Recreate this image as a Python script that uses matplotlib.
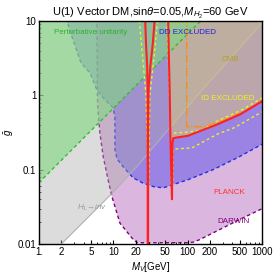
import matplotlib
matplotlib.use("Agg")
import matplotlib.pyplot as plt

plt.rcParams['font.family'] = ['Liberation Sans', 'DejaVu Sans']
plt.rcParams['mathtext.fontset'] = 'custom'
plt.rcParams['mathtext.rm'] = 'Liberation Sans'
plt.rcParams['mathtext.it'] = 'Liberation Sans:italic'

# boundaries, (M_V [GeV], g)
unit_m = [0.5, 300]
unit_g = [0.0335, 20.1]

inv_m = [0.5, 2, 10, 21.5, 156, 1000, 2000]
inv_g = [0.0024, 0.01, 0.05, 0.115, 1.18, 9.4, 20]

darwin_m = [6.0, 6.0, 6.1, 6.2, 6.6, 7.3, 8.5, 9.6, 12.3, 18.5, 21, 30, 100, 120, 146, 272, 507, 943, 2000]
darwin_g = [100, 10, 1.0, 0.64, 0.31, 0.15, 0.073, 0.043, 0.019, 0.0115, 0.0104, 0.0104, 0.0104, 0.0106, 0.0115, 0.0157, 0.0215, 0.029, 0.04]

dd_m = [2.2, 2.38, 2.78, 3.67, 4.85, 6.0, 7.5, 9.9, 10.5, 10.5, 11.2, 13.5, 18.4, 25, 35, 47, 100, 220, 500, 1000, 2000]
dd_g = [100, 10, 6.1, 2.73, 2.0, 1.18, 0.9, 0.68, 0.52, 0.19, 0.14, 0.11, 0.078, 0.066, 0.059, 0.057, 0.073, 0.1, 0.15, 0.22, 0.3]

# relic density (PLANCK) branches
pl1a_m = [26.7, 27.5, 28.5, 29.0, 29.0]
pl1a_g = [12, 5, 2.5, 1.3, 0.005]
pl1b_m = [36.4, 34, 31.5, 29.8, 29.4, 29.3]
pl1b_g = [12, 5, 2.5, 1.3, 0.3, 0.005]
pl2_m = [54.5, 56, 57.5, 58.5, 60, 61.5, 62.0, 62.3, 64, 70, 100, 256, 500, 1000, 2000]
pl2_g = [12, 3, 1.0, 0.3, 0.1, 0.04, 0.1, 0.22, 0.265, 0.27, 0.285, 0.41, 0.55, 0.83, 1.1]

# indirect detection (ID) boundaries
id1_m = [22, 25, 27.5, 29.3, 29.6]
id1_g = [12, 3, 1, 0.1, 0.03]
id2_m = [40, 35, 31, 29.8]
id2_g = [12, 3, 1, 0.05]
id3_m = [52, 55, 57, 58.5, 60]
id3_g = [12, 3, 1, 0.3, 0.06]
id4_m = [63, 63.5, 66, 114, 250, 432, 1000]
id4_g = [0.06, 0.18, 0.19, 0.196, 0.3, 0.37, 0.6]
id5_m = [65, 100, 156, 250, 539, 1000]
id5_g = [0.31, 0.32, 0.34, 0.45, 0.64, 0.92]

# CMB boundary
cmb_m = [97, 97, 105, 170, 300, 600, 1000]
cmb_g = [12, 0.38, 0.375, 0.38, 0.46, 0.62, 0.85]

xticks = [1, 2, 5, 10, 20, 50, 100, 200, 500, 1000]
xlabels = ['1.', '2', '5', '10', '20', '50', '100', '200', '500', '1000']
yticks = [0.01, 0.1, 1, 10]
ylabels = ['0.01', '0.1', '1', '10']

fig = plt.figure(figsize=(2.74, 2.76), dpi=100)
ax = fig.add_axes([39 / 274, 1 - 244 / 276, 223 / 274, 223 / 276])
ax.set_xscale('log')
ax.set_yscale('log')

# DARWIN
ax.fill(darwin_m + [2000], darwin_g + [100], color='#b870c0', alpha=0.5, lw=0, zorder=1)
ax.plot(darwin_m, darwin_g, color='#800080', lw=1.0, ls=(0, (2.5, 2)), zorder=1.1)

# DD excluded
ax.fill(dd_m + [2000], dd_g + [100], color='#5c50ea', alpha=0.5, lw=0, zorder=2)
ax.plot(dd_m, dd_g, color='#2030e0', lw=1.0, ls=(0, (2.5, 2)), zorder=2.1)

# H1 -> inv (grey)
ax.fill(inv_m + [2000, 0.5], inv_g + [100, 100], color='#a8a8a8', alpha=0.4, lw=0, zorder=3)
ax.plot(inv_m, inv_g, color='#b0b0b0', lw=0.8, zorder=3.1)

# ID excluded fill (above relic line, heavy side)
ax.fill(pl2_m + [2000, 54.5], pl2_g + [100, 100], color='#dccc74', alpha=0.5, lw=0, zorder=4)

# perturbative unitarity
ax.fill(unit_m + [0.5], unit_g + [20.1], color='#80d880', alpha=0.6, lw=0, zorder=5)
ax.plot(unit_m, unit_g, color='#30c030', lw=1.0, ls=(0, (2.5, 2)), zorder=5.1)

# relic density
for m, g in [(pl1a_m, pl1a_g), (pl1b_m, pl1b_g), (pl2_m, pl2_g)]:
    ax.plot(m, g, color='#ff2020', lw=1.5, zorder=7)

for m, g in [(id1_m, id1_g), (id2_m, id2_g), (id3_m, id3_g), (id4_m, id4_g), (id5_m, id5_g)]:
    ax.plot(m, g, color='#f0f020', lw=1.0, ls=(0, (2, 2)), zorder=6)

ax.plot(cmb_m, cmb_g, color='#ff8c00', lw=0.9, ls='-.', zorder=6.5)

ax.text(5.0, 6.9, 'Perturbative unitarity', color='#30b030', fontsize=5.8, ha='center', va='center', zorder=9)
ax.text(98, 6.9, 'DD EXCLUDED', color='#2020e0', fontsize=5.8, ha='center', va='center', zorder=9)
ax.text(372, 3.0, 'CMB', color='#b0a020', fontsize=5.8, ha='center', va='center', zorder=9)
ax.text(350, 0.92, 'ID EXCLUDED', color='#f0f020', fontsize=5.8, ha='center', va='center', zorder=9)
ax.text(360, 0.05, 'PLANCK', color='#ff3030', fontsize=5.8, ha='center', va='center', zorder=9)
ax.text(420, 0.02, 'DARWIN', color='#800080', fontsize=5.8, ha='center', va='center', zorder=9)
ax.text(5.2, 0.031, r'$H_1\!\rightarrow\!inv$', color='#999999', fontsize=5.8, ha='center', va='center', zorder=9)

ax.set_xlim(1, 1000)
ax.set_ylim(0.01, 10)
ax.set_xticks(xticks)
ax.set_xticklabels(xlabels)
ax.set_yticks(yticks)
ax.set_yticklabels(ylabels)
ax.tick_params(which='both', direction='in', labelsize=7, pad=2)
ax.tick_params(which='major', length=3)
ax.tick_params(which='minor', length=1.5)
for s in ax.spines.values():
    s.set_linewidth(1.0)
    s.set_zorder(10)

ax.set_xlabel(r'$M_V$[GeV]', fontsize=7, labelpad=2)
ax.set_ylabel(r'$\bar{g}$', fontsize=7)
ax.yaxis.set_label_coords(-0.105, 0.5)
ax.set_title(r'U(1) Vector DM,sin$\theta$=0.05,$M_{H_2}$=60 GeV', fontsize=8, pad=3)

fig.savefig('out.png', dpi=100)
